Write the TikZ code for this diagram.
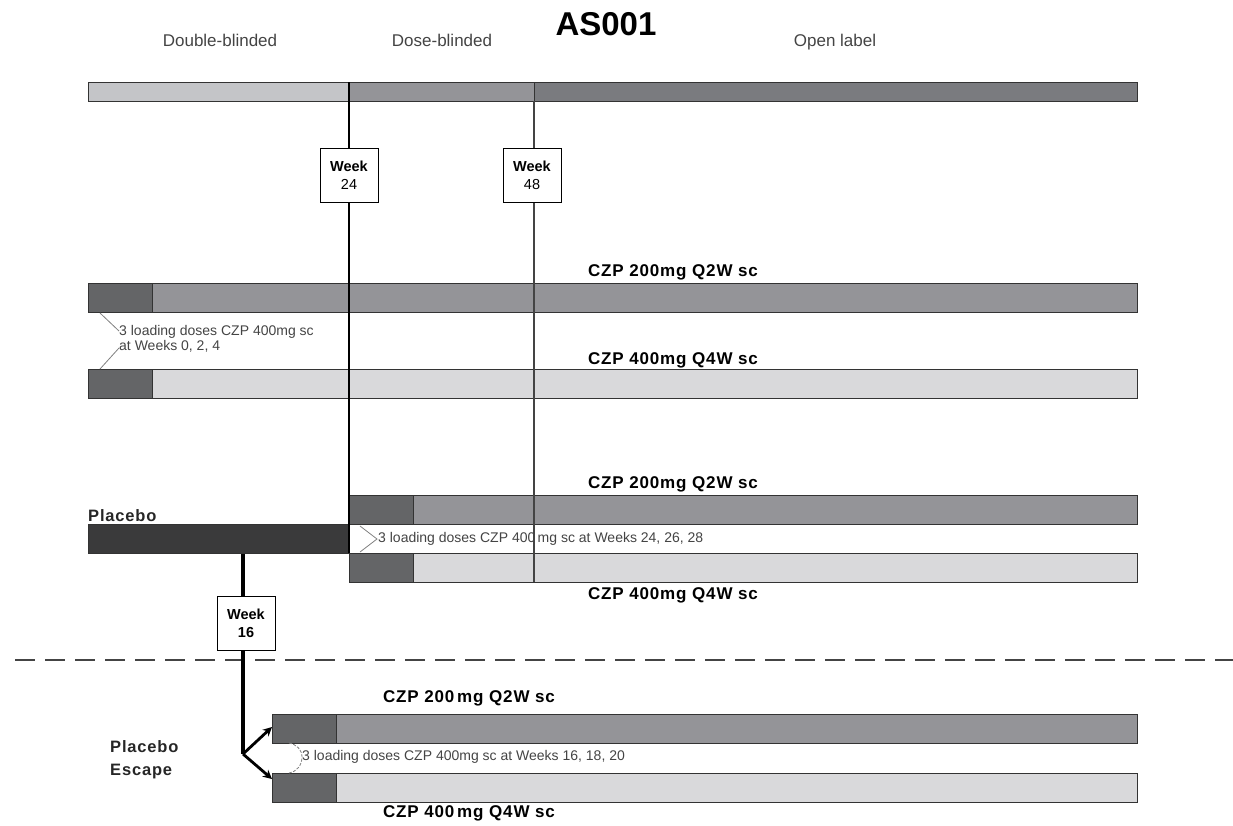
\documentclass[tikz,border=0pt]{standalone}
\usepackage{fontspec}
\setmainfont{Liberation Sans}
\usetikzlibrary{arrows.meta,calc}
\definecolor{cLight}{HTML}{C4C5C8}
\definecolor{cMid}{HTML}{949498}
\definecolor{cDark}{HTML}{7A7B7F}
\definecolor{cLoad}{HTML}{646567}
\definecolor{cPlac}{HTML}{3A3A3B}
\definecolor{cPale}{HTML}{D9D9DB}
\definecolor{cEdge}{HTML}{333333}
\definecolor{cHead}{HTML}{444444}
\newfontfamily\spacedbold[LetterSpace=5]{Liberation Sans Bold}
\tikzset{
  bar/.style={draw=cEdge, line width=1.4pt, rectangle, inner sep=0pt, anchor=north west},
  weekbox/.style={draw=black, line width=1pt, fill=white, rectangle, inner sep=0pt,
     minimum width=58pt, minimum height=54pt, align=center, font=\fontsize{14.5}{18}\selectfont},
  armlabel/.style={font=\spacedbold\fontsize{17}{18}\selectfont, inner sep=0pt},
  headlabel/.style={font=\fontsize{17}{20}\selectfont, text=cHead, inner sep=0pt, anchor=base},
  loadtxt/.style={font=\fontsize{14}{15}\selectfont, text=cHead, inner sep=0pt, anchor=west, align=left},
  callout/.style={draw=gray, line width=0.8pt},
  grouplabel/.style={font=\spacedbold\fontsize{16.5}{23}\selectfont, inner sep=0pt, anchor=west, align=left, text=black!85},
}
\begin{document}
\begin{tikzpicture}[x=1pt,y=-1pt]
\useasboundingbox (0,0) rectangle (1233,825);
% title and phase headers
\node[font=\bfseries\fontsize{33}{36}\selectfont, inner sep=0pt] (title) at (606,24) {AS001};
\node[headlabel] (hdb) at (220,46) {Double-blinded};
\node[headlabel] (hdo) at (442,46) {Dose-blinded};
\node[headlabel] (hol) at (835,46) {Open label};
% top phase bar
\node[bar, fill=cLight, minimum width=261pt, minimum height=19pt] (pdb) at (88,82) {};
\node[bar, fill=cMid, minimum width=185pt, minimum height=19pt] (pdo) at (349,82) {};
\node[bar, fill=cDark, minimum width=603pt, minimum height=19pt] (pol) at (534,82) {};
% arm 1 and 2
\node[bar, fill=cMid, minimum width=1049pt, minimum height=29pt] (a1) at (88,283) {};
\node[bar, fill=cLoad, minimum width=64pt, minimum height=29pt] (a1l) at (88,283) {};
\node[bar, fill=cPale, minimum width=1049pt, minimum height=29pt] (a2) at (88,369) {};
\node[bar, fill=cLoad, minimum width=64pt, minimum height=29pt] (a2l) at (88,369) {};
% placebo arms
\node[bar, fill=cMid, minimum width=788pt, minimum height=29pt] (a3) at (349,495) {};
\node[bar, fill=cLoad, minimum width=64pt, minimum height=29pt] (a3l) at (349,495) {};
\node[bar, fill=cPale, minimum width=788pt, minimum height=29pt] (a4) at (349,553) {};
\node[bar, fill=cLoad, minimum width=64pt, minimum height=29pt] (a4l) at (349,553) {};
\node[bar, fill=cPlac, minimum width=261pt, minimum height=29pt] (plac) at (88,524) {};
% escape arms
\node[bar, fill=cMid, minimum width=865pt, minimum height=29pt] (a5) at (272,714) {};
\node[bar, fill=cLoad, minimum width=64pt, minimum height=29pt] (a5l) at (272,714) {};
\node[bar, fill=cPale, minimum width=865pt, minimum height=29pt] (a6) at (272,773) {};
\node[bar, fill=cLoad, minimum width=64pt, minimum height=29pt] (a6l) at (272,773) {};
% vertical week lines
\coordinate (w24top) at (349,82);
\coordinate (w24bot) at (349,553);
\coordinate (w48top) at (534,101);
\coordinate (w48bot) at (534,582);
\draw[line width=2.2pt] (w24top) -- (w24bot);
\draw[line width=1.3pt, draw=cHead] (w48top) -- (w48bot);
\node[weekbox] (wk24) at (349,175) {\textbf{Week}\\24};
\node[weekbox] (wk48) at (532,175) {\textbf{Week}\\48};
% arm labels
\node[armlabel] (l1) at (673,272) {CZP 200mg Q2W sc};
\node[armlabel] (l2) at (673,360) {CZP 400mg Q4W sc};
\node[armlabel] (l3) at (673,484) {CZP 200mg Q2W sc};
\node[armlabel] (l4) at (673,595) {CZP 400mg Q4W sc};
\node[armlabel] (l5) at (469,698) {CZP 200\,mg Q2W sc};
\node[armlabel] (l6) at (469,813) {CZP 400\,mg Q4W sc};
% group labels
\node[grouplabel] (gpl) at (88,516) {Placebo};
\node[grouplabel] (gpe) at (110,760) {Placebo\\Escape};
% loading dose texts and callouts
\node[loadtxt] (ld1) at (119,339) {3 loading doses CZP 400mg sc\\at Weeks 0, 2, 4};
\coordinate (c1a) at (100,313);
\coordinate (c1b) at (100,369);
\draw[callout] (c1a) -- (ld1.west |- 0,331);
\draw[callout] (c1b) -- (ld1.west |- 0,348);
\node[loadtxt, fill=white, inner sep=1pt] (ld2) at (377,539) {3 loading doses CZP 400\,mg sc at Weeks 24, 26, 28};
\draw[line width=1.3pt, draw=cHead] (534,524) -- (534,553);
\coordinate (c2a) at (360,526);
\coordinate (c2b) at (360,552);
\draw[callout] (c2a) -- (ld2.west) -- (c2b);
\node[loadtxt] (ld3) at (302,757) {3 loading doses CZP 400mg sc at Weeks 16, 18, 20};
\coordinate (c3a) at (289,743);
\coordinate (c3b) at (289,773);
\draw[callout, dashed, dash pattern=on 3pt off 1.5pt] (c3a) to[out=-10, in=90] (ld3.west) to[out=-90, in=10] (c3b);
% placebo escape connector
\node[weekbox, font=\bfseries\fontsize{14.5}{18}\selectfont] (wk16) at (246,623) {Week\\16};
\coordinate (esc) at (243,754);
\draw[line width=4.5pt] (plac.south -| wk16.north) ++(-3,0) -- ($(wk16.north)+(-3,0)$);
\draw[dashed, draw=cHead, line width=1.2pt, dash pattern=on 20pt off 10pt] (15,660) -- (1233,660);
\draw[line width=4.5pt] ($(wk16.south)+(-3,0)$) -- (esc);
\draw[line width=2.8pt, -{Stealth[length=9pt,width=9pt]}] (esc) -- (a5.west |- 0,727);
\draw[line width=2.8pt, -{Stealth[length=9pt,width=9pt]}] (esc) -- (a6.west |- 0,779);
\end{tikzpicture}
\end{document}
